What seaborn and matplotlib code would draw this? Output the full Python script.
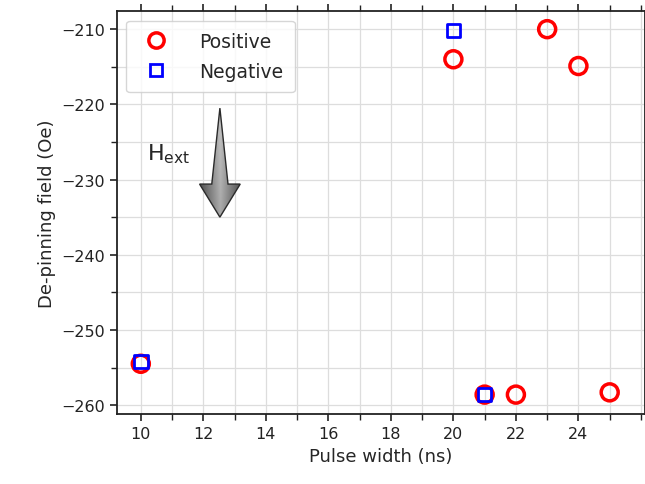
import numpy as np
import matplotlib
matplotlib.use("Agg")
import matplotlib.pyplot as plt
import seaborn as sns
from matplotlib.lines import Line2D
from matplotlib.patches import Polygon
from matplotlib.ticker import MultipleLocator

pos_x = [10, 20, 21, 22, 23, 24, 25]
pos_y = [-254.5, -214.0, -258.6, -258.6, -210.0, -214.9, -258.3]
neg_x = [10, 20, 21]
neg_y = [-254.2, -210.2, -258.6]
x_ticks = [10, 12, 14, 16, 18, 20, 22, 24]

sns.set_style("ticks")
plt.rcParams['font.family'] = ['DejaVu Sans']

fig = plt.figure(figsize=(6.45, 4.85), dpi=100)
ax = fig.add_axes([0.181, 0.144, 0.819, 0.831])

sns.scatterplot(x=pos_x, y=pos_y, ax=ax, marker='o', s=150, facecolor='none',
                edgecolor='red', linewidth=2.5, zorder=3)
sns.scatterplot(x=neg_x, y=neg_y, ax=ax, marker='s', s=95, facecolor='none',
                edgecolor='blue', linewidth=2.0, zorder=4)

ax.set_xticks(x_ticks)
ax.xaxis.set_minor_locator(MultipleLocator(1))
ax.yaxis.set_major_locator(MultipleLocator(10))
ax.yaxis.set_minor_locator(MultipleLocator(5))
ax.grid(True, which='both', color='#dddddd', linewidth=0.9)
ax.set_axisbelow(True)
ax.tick_params(which='both', top=True, right=True, labelsize=11.5, colors='#222222')
ax.tick_params(which='major', length=5, width=1.2)
ax.tick_params(which='minor', length=4, width=1.0)
for sp in ax.spines.values():
    sp.set_linewidth(1.3)
    sp.set_color('#222222')

ax.set_xlabel("Pulse width (ns)", fontsize=13)
ax.set_ylabel("De-pinning field (Oe)", fontsize=13)

handles = [Line2D([], [], marker='o', linestyle='none', markersize=11, markerfacecolor='none',
                  markeredgecolor='red', markeredgewidth=2.5),
           Line2D([], [], marker='s', linestyle='none', markersize=9, markerfacecolor='none',
                  markeredgecolor='blue', markeredgewidth=2.0)]
ax.legend(handles, ["Positive", "Negative"], loc='upper left', fontsize=13.5,
          frameon=True, borderpad=0.6, handletextpad=1.3, labelspacing=0.6)

# shaded arrow (lighter in the middle, darker toward the edges)
xc = 12.53
hw_head = 0.65
verts = [(xc, -220.5), (xc + 0.26, -230.6), (xc + hw_head, -230.6), (xc, -235.0),
         (xc - hw_head, -230.6), (xc - 0.26, -230.6)]
poly = Polygon(verts, closed=True, facecolor='none', edgecolor='#2a2a2a', linewidth=1.0, zorder=6)
ax.add_patch(poly)
gx = np.linspace(-1, 1, 200)
gy = np.linspace(0, 1, 200)
GX, GY = np.meshgrid(gx, gy)
val = 0.78 - 0.38 * np.abs(GX) - 0.12 * GY
img = np.dstack([val, val, val])
im = ax.imshow(img, extent=(xc - hw_head, xc + hw_head, -235, -220), origin='upper',
               aspect='auto', zorder=5, interpolation='bilinear')
im.set_clip_path(poly)
ax.text(10.2, -227.3, r"H$_\mathrm{ext}$", fontsize=16)
ax.set_xlim(9.23, 26.13)
ax.set_ylim(-261.2, -207.6)

fig.savefig("out.png", dpi=100)
